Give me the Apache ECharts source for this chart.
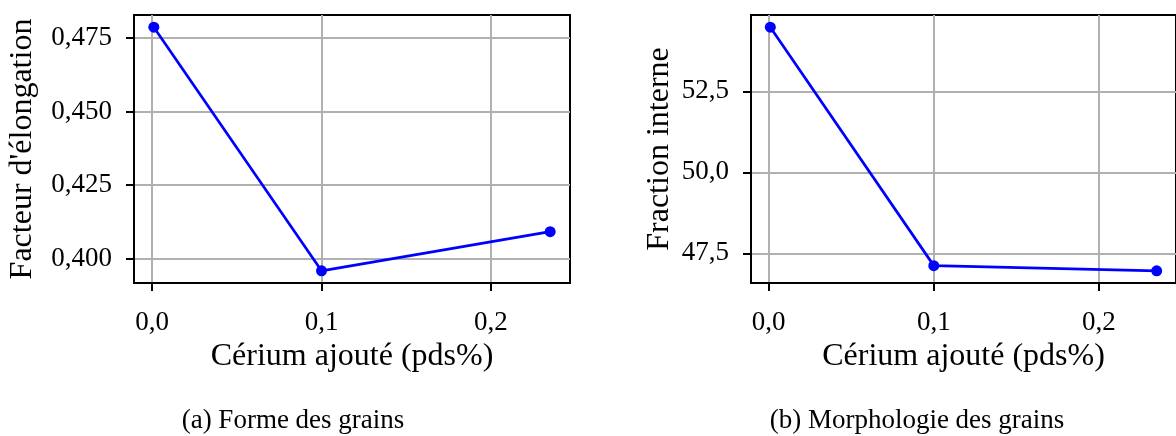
<!DOCTYPE html>
<html>
<head>
<meta charset="utf-8">
<script src="https://cdn.jsdelivr.net/npm/echarts@6/dist/echarts.min.js"></script>
<style>
html,body{margin:0;padding:0;background:#fff;}
#c{width:1176px;height:436px;}
</style>
</head>
<body>
<div id="c"></div>
<script>
// ---- data ----
const cerium = [0.001, 0.1, 0.235];
const elongation = [0.4787, 0.3959, 0.4092];
const fractionInterne = [54.48, 47.12, 46.96];
const xTicks = [0.0, 0.1, 0.2];
const yTicksA = [0.400, 0.425, 0.450, 0.475];
const yTicksB = [47.5, 50.0, 52.5];
const xName = 'Cérium ajouté (pds%)';
const yNameA = "Facteur d'élongation";
const yNameB = 'Fraction interne';
const captionA = '(a) Forme des grains';
const captionB = '(b) Morphologie des grains';

function pad(arr) {
  const lo = Math.min(...arr), hi = Math.max(...arr), r = hi - lo;
  return [lo - 0.05 * r, hi + 0.05 * r];
}
const xr = pad(cerium), yrA = pad(elongation), yrB = pad(fractionInterne);

const FONT = 'Liberation Serif';
const TICK = 27, LABEL = 32, CAP = 27;

function xAxis(gi) {
  return {
    type: 'value', gridIndex: gi, min: xr[0], max: xr[1],
    name: xName, nameLocation: 'middle', nameGap: 58,
    nameTextStyle: { fontFamily: FONT, fontSize: LABEL, color: '#000' },
    axisLine: { show: true, onZero: false, lineStyle: { color: '#000', width: 2 } },
    axisTick: { show: true, length: 8, lineStyle: { color: '#000', width: 2 }, customValues: xTicks },
    axisLabel: { margin: 26, fontFamily: FONT, fontSize: TICK, color: '#000',
      customValues: xTicks, formatter: v => v.toFixed(1).replace('.', ',') },
    splitLine: { show: true, lineStyle: { color: '#b0b0b0', width: 2 } }
  };
}
function yAxis(gi, r, ticks, name, gap, dec) {
  return {
    type: 'value', gridIndex: gi, min: r[0], max: r[1],
    name: name, nameLocation: 'middle', nameGap: gap,
    nameTextStyle: { fontFamily: FONT, fontSize: LABEL, color: '#000' },
    axisLine: { show: true, onZero: false, lineStyle: { color: '#000', width: 2 } },
    axisTick: { show: true, length: 8, lineStyle: { color: '#000', width: 2 }, customValues: ticks },
    axisLabel: { margin: 22, fontFamily: FONT, fontSize: TICK, color: '#000',
      customValues: ticks, formatter: v => v.toFixed(dec).replace('.', ',') },
    splitLine: { show: true, lineStyle: { color: '#b0b0b0', width: 2 } }
  };
}

const chart = echarts.init(document.getElementById('c'), null, { renderer: 'canvas' });
chart.setOption({
  animation: false,
  backgroundColor: '#fff',
  grid: [
    { left: 134, top: 15, width: 436, height: 268, show: true, borderColor: '#000', borderWidth: 2, backgroundColor: 'transparent' },
    { left: 751, top: 15, width: 435, height: 268, show: true, borderColor: '#000', borderWidth: 2, backgroundColor: 'transparent' }
  ],
  xAxis: [xAxis(0), xAxis(1)],
  yAxis: [
    yAxis(0, yrA, yTicksA, yNameA, 95, 3),
    yAxis(1, yrB, yTicksB, yNameB, 75, 1)
  ],
  series: [
    { type: 'line', xAxisIndex: 0, yAxisIndex: 0, data: cerium.map((x, i) => [x, elongation[i]]),
      symbol: 'circle', symbolSize: 11, clip: false,
      lineStyle: { color: '#0000ff', width: 2.7 }, itemStyle: { color: '#0000ff' } },
    { type: 'line', xAxisIndex: 1, yAxisIndex: 1, data: cerium.map((x, i) => [x, fractionInterne[i]]),
      symbol: 'circle', symbolSize: 11, clip: false,
      lineStyle: { color: '#0000ff', width: 2.7 }, itemStyle: { color: '#0000ff' } }
  ],
  graphic: [
    { type: 'text', x: 293, y: 421, style: { text: captionA, fontFamily: FONT, fontSize: CAP, fill: '#000', align: 'center', verticalAlign: 'middle' } },
    { type: 'text', x: 917, y: 421, style: { text: captionB, fontFamily: FONT, fontSize: CAP, fill: '#000', align: 'center', verticalAlign: 'middle' } }
  ]
});
</script>
</body>
</html>
